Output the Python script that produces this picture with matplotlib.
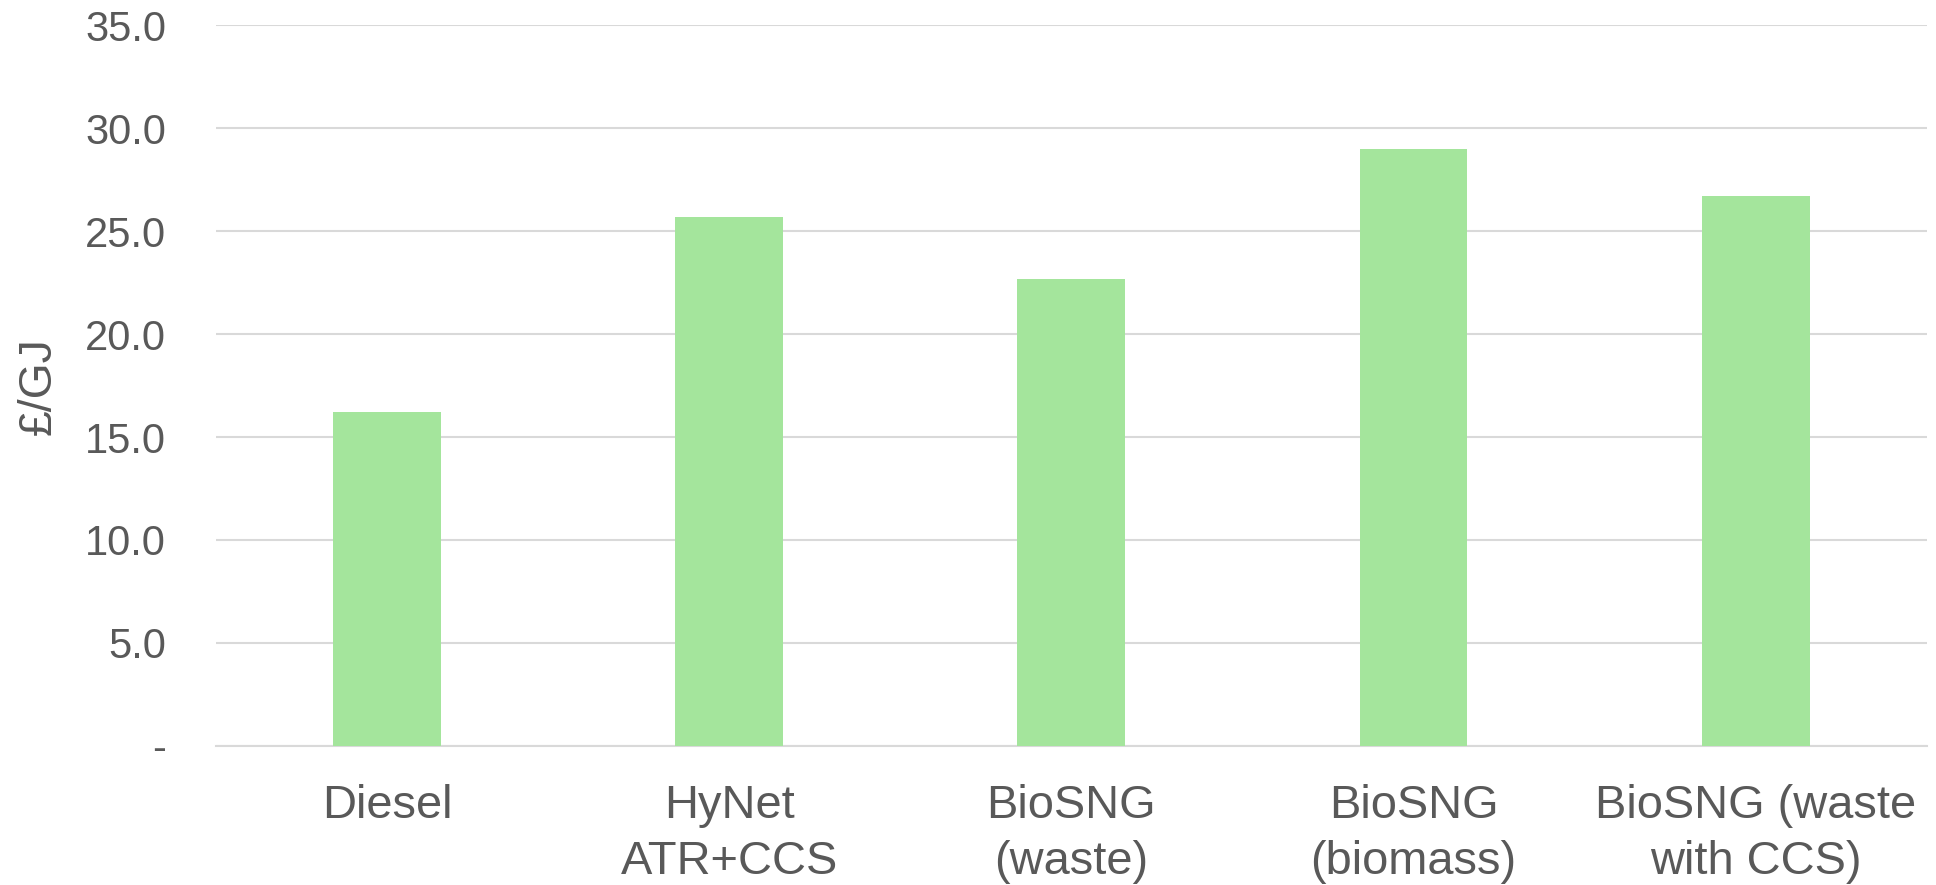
import numpy as np
import matplotlib.pyplot as plt

# cost per unit of energy for each fuel option
fuels = ['Diesel', 'HyNet\nATR+CCS', 'BioSNG\n(waste)', 'BioSNG\n(biomass)', 'BioSNG (waste\nwith CCS)']
cost = [16.2, 25.7, 22.7, 29.0, 26.7]
yticks = [0, 5, 10, 15, 20, 25, 30, 35]
ytick_labels = ['-', '5.0', '10.0', '15.0', '20.0', '25.0', '30.0', '35.0']

plt.rcParams['font.family'] = ['Liberation Sans', 'DejaVu Sans']
text_col = '#595959'

fig = plt.figure(figsize=(19.36, 8.85), dpi=100)
ax = fig.add_axes([0.1116, 0.1574, 0.8836, 0.8139])

x = np.arange(len(fuels))
ax.bar(x, cost, width=0.315, color='#a4e59c', zorder=3)

ax.set_xlim(-0.5, len(fuels) - 0.5)
ax.set_ylim(0, 35)
ax.set_yticks(yticks)
ax.set_yticklabels(ytick_labels)
ax.set_xticks(x)
ax.set_xticklabels(fuels, fontsize=33.8, color=text_col, linespacing=1.36)
ax.tick_params(axis='y', labelsize=30, colors=text_col, length=0, pad=36)
ax.tick_params(axis='x', length=0, pad=27.5)

ax.grid(axis='y', color='#d9d9d9', linewidth=1.5, zorder=0)
for s in ['top', 'right', 'left']:
    ax.spines[s].set_visible(False)
ax.spines['bottom'].set_color('#d9d9d9')
ax.spines['bottom'].set_linewidth(1.5)

fig.text(39 / 1936, 1 - 386 / 885, '£/GJ', rotation=90, ha='center', va='center',
         fontsize=33.4, color=text_col)

fig.savefig('out.png', dpi=100)
